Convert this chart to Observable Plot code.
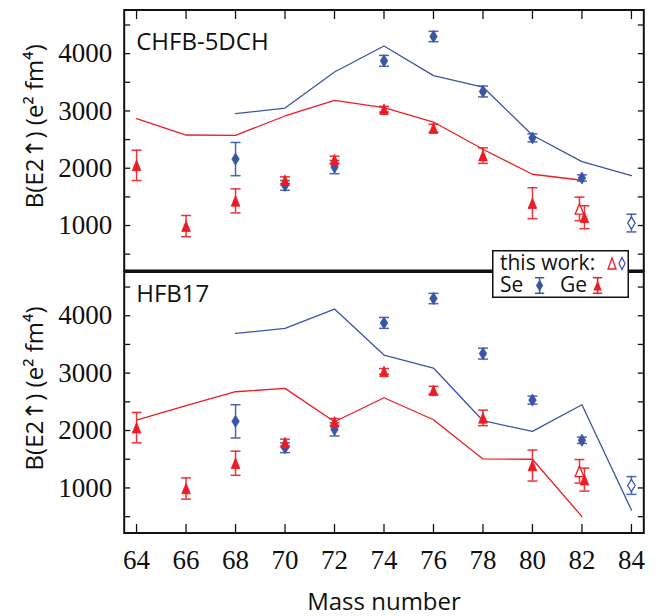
<!DOCTYPE html>
<html>
<head>
<meta charset="utf-8">
<script src="https://cdn.jsdelivr.net/npm/d3@7"></script>
<script src="https://cdn.jsdelivr.net/npm/@observablehq/plot@0.6"></script>
<style>
  body { margin: 0; background: #fff; }
  #chart { position: relative; width: 657px; height: 616px; overflow: hidden; background: #fff; }
  #chart > svg, #chart > .legend { position: absolute; left: 0; }
</style>
</head>
<body>
<div id="chart"></div>
<script>
// ---- tick labels ----
const massTicks = [64, 66, 68, 70, 72, 74, 76, 78, 80, 82, 84];
const yTickLabels = [1000, 2000, 3000, 4000];
const yMinorTicks = [500, 1000, 1500, 2000, 2500, 3000, 3500, 4000, 4500];

// ---- experimental data (same in both panels) ----
const geMass  = [64, 66, 68, 70, 72, 74, 76, 78, 80, 82.1];
const geValue = [2050, 990, 1430, 1790, 2150, 3030, 2700, 2220, 1390, 1145];
const geError = [265, 185, 210, 60, 60, 50, 70, 135, 270, 200];

const seMass  = [68, 70, 72, 74, 76, 78, 80, 82];
const seValue = [2160, 1700, 2020, 3875, 4300, 3340, 2530, 1830];
const seError = [290, 85, 115, 95, 90, 95, 70, 55];

// this work (open symbols)
const geNewMass = [81.9];
const geNewValue = [1290];
const geNewError = [205];
const seNewMass = [84];
const seNewValue = [1043];
const seNewError = [155];

// ---- theory curves ----
const geTheoryMass = [64, 66, 68, 70, 72, 74, 76, 78, 80, 82];
const seTheoryMass = [68, 70, 72, 74, 76, 78, 80, 82, 84];
const chfbGe = [2866, 2580, 2575, 2912, 3185, 3058, 2807, 2331, 1895, 1790];
const chfbSe = [2953, 3051, 3679, 4133, 3616, 3417, 2575, 2116, 1872];
const hfbGe  = [2183, 2432, 2676, 2734, 2153, 2571, 2188, 1505, 1500, 500];
const hfbSe  = [3692, 3779, 4116, 3315, 3089, 2171, 1985, 2449, 615];

const blue = "#3a55a5";
const red = "#ed1c24";
const ink = "#111";

// ---- custom symbols ----
const tallDiamond = { draw(ctx, size) { const r = Math.sqrt(size / Math.PI); const w = 0.62 * r;
  ctx.moveTo(0, -r); ctx.lineTo(w, 0); ctx.lineTo(0, r); ctx.lineTo(-w, 0); ctx.closePath(); } };
const tallTriangle = { draw(ctx, size) { const r = Math.sqrt(size / Math.PI);
  ctx.moveTo(0, -0.88 * r); ctx.lineTo(0.72 * r, 0.88 * r); ctx.lineTo(-0.72 * r, 0.88 * r); ctx.closePath(); } };
const cap = { draw(ctx) { ctx.moveTo(-5, 0); ctx.lineTo(5, 0); } };
const tickRight = { draw(ctx) { ctx.moveTo(0, 0); ctx.lineTo(6, 0); } };
const tickLeft  = { draw(ctx) { ctx.moveTo(0, 0); ctx.lineTo(-6, 0); } };
const tickDown  = { draw(ctx) { ctx.moveTo(0, 0); ctx.lineTo(0, 9); } };
const tickUp    = { draw(ctx) { ctx.moveTo(0, 0); ctx.lineTo(0, -9); } };

const idx = n => d3.range(n);

function errorMarks(mass, value, error, color) {
  const I = idx(mass.length);
  return [
    Plot.ruleX(I, { x: i => mass[i], y1: i => value[i] - error[i], y2: i => value[i] + error[i], stroke: color, strokeWidth: 1.5, strokeOpacity: 0.9 }),
    Plot.dot(I, { x: i => mass[i], y: i => value[i] - error[i], symbol: cap, fill: "none", stroke: color, strokeWidth: 1.5, strokeOpacity: 0.9 }),
    Plot.dot(I, { x: i => mass[i], y: i => value[i] + error[i], symbol: cap, fill: "none", stroke: color, strokeWidth: 1.5, strokeOpacity: 0.9 })
  ];
}

function panel({ label, labelDy, geTheory, seTheory, height, marginTop, marginBottom, bottomAxis }) {
  const GI = idx(geTheoryMass.length), SI = idx(seTheoryMass.length);
  const marks = [
    Plot.line(GI, { x: i => geTheoryMass[i], y: i => geTheory[i], stroke: red, strokeWidth: 1.3 }),
    Plot.line(SI, { x: i => seTheoryMass[i], y: i => seTheory[i], stroke: blue, strokeWidth: 1.3 }),
    ...errorMarks(seMass, seValue, seError, blue),
    ...errorMarks(geMass, geValue, geError, red),
    ...errorMarks(seNewMass, seNewValue, seNewError, blue),
    ...errorMarks(geNewMass, geNewValue, geNewError, red),
    Plot.dot(idx(seMass.length), { x: i => seMass[i], y: i => seValue[i], symbol: tallDiamond, r: 6, fill: blue, stroke: blue, strokeWidth: 0.8 }),
    Plot.dot(idx(geMass.length), { x: i => geMass[i], y: i => geValue[i], symbol: tallTriangle, r: 6, fill: red, stroke: red, strokeWidth: 0.8 }),
    Plot.dot(idx(seNewMass.length), { x: i => seNewMass[i], y: i => seNewValue[i], symbol: tallDiamond, r: 6, fill: "white", stroke: blue, strokeWidth: 1.3 }),
    Plot.dot(idx(geNewMass.length), { x: i => geNewMass[i], y: i => geNewValue[i], symbol: tallTriangle, r: 6, fill: "white", stroke: red, strokeWidth: 1.3 }),
    Plot.dot(yMinorTicks, { y: d => d, frameAnchor: "left", symbol: tickRight, fill: "none", stroke: ink, strokeWidth: 1.3 }),
    Plot.dot(yMinorTicks, { y: d => d, frameAnchor: "right", symbol: tickLeft, fill: "none", stroke: ink, strokeWidth: 1.3 }),
    Plot.dot(massTicks, { x: d => d, frameAnchor: bottomAxis ? "bottom" : "top", symbol: bottomAxis ? tickUp : tickDown, fill: "none", stroke: ink, strokeWidth: 1.3 }),
    Plot.frame({ stroke: ink, strokeWidth: 2 }),
    Plot.axisY({ ticks: yTickLabels, tickSize: 0, tickPadding: 12, label: null, tickFormat: d3.format("d"),
                 fontFamily: "Liberation Serif", fontSize: 27, fill: ink }),
    Plot.text([label], { text: d => d, frameAnchor: "top-left", textAnchor: "start", lineAnchor: "bottom",
                         dx: 12, dy: labelDy, fontFamily: "Open Sans", fontSize: 24, fill: ink }),
    Plot.text(["B(E2↑) (e² fm⁴)"], { text: d => d, frameAnchor: "left", rotate: -90, textAnchor: "middle", lineAnchor: "bottom",
                         dx: -81.7, dy: -14, fontFamily: "Open Sans, Noto Sans, DejaVu Sans", fontSize: 24, fill: ink })
  ];
  if (bottomAxis) {
    marks.push(
      Plot.axisX({ ticks: massTicks, tickSize: 0, tickPadding: 17, label: null, tickFormat: d3.format("d"),
                   fontFamily: "Liberation Serif", fontSize: 27, fill: ink }),
      Plot.text(["Mass number"], { text: d => d, frameAnchor: "bottom", textAnchor: "middle", lineAnchor: "bottom",
                   dy: 77, fontFamily: "Open Sans", fontSize: 24, fill: ink })
    );
  }
  return Plot.plot({
    width: 657,
    height,
    marginLeft: 123.7,
    marginRight: 13.7,
    marginTop,
    marginBottom,
    style: { background: "transparent", overflow: "visible" },
    x: { domain: [63.5, 84.5], axis: null },
    y: { domain: [215, 4762], axis: null },
    marks
  });
}

const chart = document.getElementById("chart");

const topPanel = panel({ label: "CHFB-5DCH", labelDy: 39.8, geTheory: chfbGe, seTheory: chfbSe,
                    height: 280, marginTop: 9.5, marginBottom: 10, bottomAxis: false });
topPanel.style.top = "0px";
chart.appendChild(topPanel);

const bottomPanel = panel({ label: "HFB17", labelDy: 30.2, geTheory: hfbGe, seTheory: hfbSe,
                       height: 354, marginTop: 9.5, marginBottom: 83.5, bottomAxis: true });
bottomPanel.style.top = "262px";
chart.appendChild(bottomPanel);

const legend = document.createElement("div");
legend.className = "legend";
legend.style.left = "491.5px";
legend.style.top = "250px";
legend.innerHTML = `
<svg width="138" height="49" xmlns="http://www.w3.org/2000/svg" style="display:block;overflow:visible">
  <rect x="0.75" y="0.75" width="135.5" height="46.5" fill="white" stroke="${ink}" stroke-width="1.5"/>
  <g font-family="Open Sans" font-size="21" fill="${ink}">
    <text x="8" y="19.5">this work:</text>
    <text x="8" y="41.5">Se</text>
    <text x="68" y="41.5">Ge</text>
  </g>
  <path d="M120,8 L124,19 L116,19 Z" fill="white" stroke="${red}" stroke-width="1.3"/>
  <path d="M130,7.5 L133,13.5 L130,19.5 L127,13.5 Z" fill="white" stroke="${blue}" stroke-width="1.3"/>
  <g stroke="${blue}" stroke-width="1.5">
    <line x1="47.6" y1="27.7" x2="47.6" y2="43.3"/>
    <line x1="43" y1="27.7" x2="52.2" y2="27.7"/>
    <line x1="43" y1="43.3" x2="52.2" y2="43.3"/>
  </g>
  <path d="M47.6,29.5 L51.2,35.5 L47.6,41.5 L44,35.5 Z" fill="${blue}"/>
  <g stroke="${red}" stroke-width="1.5">
    <line x1="105.6" y1="27.7" x2="105.6" y2="43.3"/>
    <line x1="101" y1="27.7" x2="110.2" y2="27.7"/>
    <line x1="101" y1="43.3" x2="110.2" y2="43.3"/>
  </g>
  <path d="M105.6,30.5 L109.8,40.5 L101.4,40.5 Z" fill="${red}"/>
</svg>`;
chart.appendChild(legend);
</script>
</body>
</html>
